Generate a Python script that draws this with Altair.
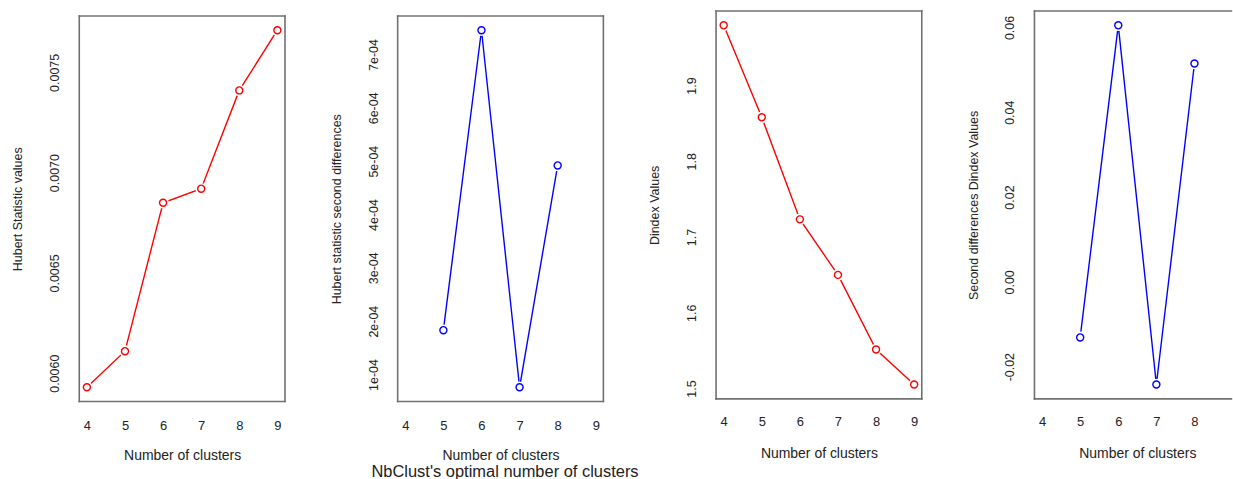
import altair as alt
import pandas as pd

# ---------------- data ----------------
clusters = [4, 5, 6, 7, 8, 9]
hubert_values = [0.00593, 0.00611, 0.00685, 0.00692, 0.00741, 0.00771]
hubert_second_diff = [None, 0.000183, 0.0007455, 0.000076, 0.000492, None]
dindex_values = [1.9795, 1.858, 1.7233, 1.650, 1.5515, 1.5053]
dindex_second_diff = [None, -0.0131, 0.0605, -0.0242, 0.0515, None]

x_ticks = [4, 5, 6, 7, 8, 9]
hubert_ticks = [0.0060, 0.0065, 0.0070, 0.0075]
hubert_diff_ticks = [1e-4, 2e-4, 3e-4, 4e-4, 5e-4, 6e-4, 7e-4]
dindex_ticks = [1.5, 1.6, 1.7, 1.8, 1.9]
dindex_diff_ticks = [-0.02, 0.0, 0.02, 0.04, 0.06]

y_titles = [
    "Hubert Statistic values",
    "Hubert statistic second differences",
    "Dindex Values",
    "Second differences Dindex Values",
]
x_title = "Number of clusters"
main_title = "NbClust's optimal number of clusters"

# ---------------- styling ----------------
FONT = "Liberation Sans"
TXT = "#222222"
RED = "#ff0000"
BLUE = "#0000ff"
W = 206.3          # full panel width
H = 391.7
X_RANGE = [3.8, 9.2]   # R's extended x range (4% on each side)


def panel(values, color, ytitle, yticks, label_expr, gap_top, gap_bottom,
          xlab_pad, xtitle_y, width=W, title=None):
    df = pd.DataFrame({"k": clusters, "v": values}).dropna()
    lo, hi = float(df.v.min()), float(df.v.max())
    ext = 0.04 * (hi - lo)
    lo, hi = lo - ext, hi + ext
    box = H - gap_top - gap_bottom
    per = (hi - lo) / box
    ydom = [lo - gap_bottom * per, hi + gap_top * per]
    xmax = X_RANGE[0] + (X_RANGE[1] - X_RANGE[0]) * width / W
    xdom = [X_RANGE[0], xmax]

    xs = alt.Scale(domain=xdom, nice=False, zero=False)
    ys = alt.Scale(domain=ydom, nice=False, zero=False)

    xaxis = alt.Axis(
        values=x_ticks, format="d", grid=False, domain=False, ticks=False,
        tickSize=0, labelFont=FONT, labelFontSize=13, labelColor=TXT,
        labelPadding=xlab_pad, labelBaseline="alphabetic", labelAlign="center",
        title=x_title, titleFont=FONT, titleFontSize=14,
        titleFontWeight="normal", titleColor=TXT, titleBaseline="alphabetic",
        titleAlign="center", titleX=W / 2, titleY=xtitle_y,
    )
    yaxis = alt.Axis(
        values=yticks, labelExpr=label_expr, grid=False, domain=False,
        ticks=False, tickSize=0, labelAngle=270, labelAlign="center",
        labelBaseline="alphabetic", labelPadding=20.7, labelFont=FONT,
        labelFontSize=12.5, labelColor=TXT,
        title=ytitle, titleAngle=270, titleAlign="center",
        titleBaseline="alphabetic", titleX=-57.5,
        titleY=gap_top + box / 2, titleFont=FONT, titleFontSize=12.5,
        titleFontWeight="normal", titleColor=TXT,
    )

    base = alt.Chart(df)
    enc = dict(
        x=alt.X("k:Q", scale=xs, axis=xaxis),
        y=alt.Y("v:Q", scale=ys, axis=yaxis),
    )
    line = base.mark_line(color=color, strokeWidth=1.4).encode(**enc)
    mask = base.mark_point(shape="circle", filled=True, color="white",
                           opacity=1, size=135).encode(**enc)
    pts = base.mark_point(shape="circle", filled=False, color=color,
                          size=50, strokeWidth=1.4, opacity=1).encode(**enc)

    # box around the plot region (R's box()), cut where the picture ends
    xr = min(X_RANGE[1], xmax)
    edges = {
        "k": [X_RANGE[0], X_RANGE[0], X_RANGE[0]],
        "k2": [xr, xr, X_RANGE[0]],
        "v": [hi, lo, lo],
        "v2": [hi, lo, hi],
    }
    if X_RANGE[1] <= xmax + 1e-9:
        edges["k"].append(X_RANGE[1])
        edges["k2"].append(X_RANGE[1])
        edges["v"].append(lo)
        edges["v2"].append(hi)
    frame = alt.Chart(pd.DataFrame(edges)).mark_rule(
        color="#707070", strokeWidth=1.6, strokeCap="square"
    ).encode(
        x=alt.X("k:Q", scale=xs, axis=xaxis),
        x2="k2:Q",
        y=alt.Y("v:Q", scale=ys, axis=yaxis),
        y2="v2:Q",
    )
    ch = alt.layer(line, mask, pts, frame).properties(width=width, height=H)
    if title is not None:
        ch = ch.properties(title=title)
    return ch


p1 = panel(hubert_values, RED, y_titles[0], hubert_ticks,
           "format(datum.value, '.4f')", 5, 0, 28.3, 58.5)
p2 = panel(hubert_second_diff, BLUE, y_titles[1], hubert_diff_ticks,
           "replace(format(datum.value, '.0e'), 'e-', 'e-0')", 5, 0, 28.3, 58.5,
           title=alt.TitleParams(main_title, orient="bottom", anchor="middle",
                                 font=FONT, fontSize=16.5, fontWeight="normal",
                                 color=TXT, offset=1.2, dx=4.5))
p3 = panel(dindex_values, RED, y_titles[2], dindex_ticks,
           "format(datum.value, '.1f')", 0, 2.7, 24, 55.7)
p4 = panel(dindex_second_diff, BLUE, y_titles[3], dindex_diff_ticks,
           "replace(format(datum.value, '.2f'), '\u2212', '-')", 0, 2.7, 24, 55.7,
           width=197.5)

chart = alt.hconcat(p1, p2, p3, p4, spacing=112.3, bounds="flush").properties(
    padding={"left": 11.5, "top": 8.3, "right": 0, "bottom": 0},
    background="white",
).configure_view(stroke=None)

chart.save("out.html", embed_options={"renderer": "svg", "actions": False})
